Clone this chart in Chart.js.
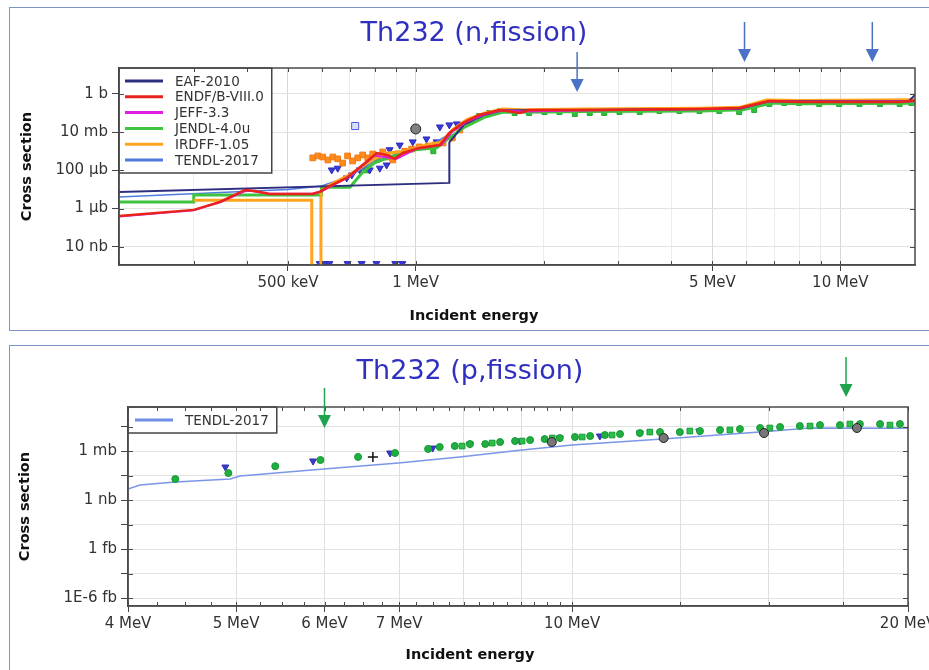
<!DOCTYPE html>
<html>
<head>
<meta charset="utf-8">
<title>Th232 fission</title>
<script src="https://cdn.jsdelivr.net/npm/chart.js@4.4.1/dist/chart.umd.min.js"></script>
<style>
  body { margin: 0; background: #fff; width: 929px; height: 670px; overflow: hidden; position: relative; }
  .panel { position: absolute; left: 9px; width: 940px; border: 1.5px solid #7f95c6; background: #fff; }
  #panelN { top: 7px; height: 322px; }
  #panelP { top: 345px; height: 340px; }
  canvas { position: absolute; left: 0; }
  #chartN { top: 0; }
  #chartP { top: 340px; }
</style>
</head>
<body>
<div class="panel" id="panelN"></div>
<div class="panel" id="panelP"></div>
<canvas id="chartN" width="929" height="335"></canvas>
<canvas id="chartP" width="929" height="330"></canvas>
<script>
// ---- Th232 (n,fission): energy in MeV, cross section in barns ----
const eafE  = [0.2, 1.2, 1.2, 1.3, 1.45, 1.6, 2.0, 5.8, 6.8, 14.5, 15];
const eafXs = [7.4e-6, 2.2e-5, 2.9e-3, 0.025, 0.08, 0.14, 0.14, 0.17, 0.42, 0.42, 0.9];

const endfE  = [0.2, 0.3, 0.346, 0.396, 0.418, 0.453, 0.572, 0.594, 0.627, 0.688, 0.75, 0.81, 0.854, 0.892, 0.932, 1.02, 1.14, 1.2, 1.29, 1.41, 1.58, 1.76, 1.85, 2.71, 4.66, 5.78, 6.8, 8.0, 13.8, 15];
const endfXs = [4.1e-7, 8.5e-7, 2.2e-6, 9.4e-6, 8.3e-6, 5.8e-6, 5.8e-6, 7.4e-6, 1.5e-5, 4.0e-5, 1.9e-4, 8.1e-4, 6.4e-4, 4.0e-4, 8.1e-4, 1.5e-3, 2.1e-3, 9.1e-3, 0.030, 0.079, 0.145, 0.101, 0.145, 0.145, 0.164, 0.185, 0.43, 0.38, 0.38, 0.45];

const jeffE  = [0.2, 0.3, 0.35, 0.4, 0.45, 0.57, 0.6, 0.7, 0.8, 0.9, 1.0, 1.15, 1.22, 1.32, 1.45, 1.6, 1.8, 2.7, 4.7, 5.8, 6.8, 8, 15];
const jeffXs = [3.8e-7, 8e-7, 2.4e-6, 9e-6, 6e-6, 6e-6, 8e-6, 5e-5, 6e-4, 4e-4, 1.3e-3, 2.2e-3, 0.011, 0.035, 0.085, 0.14, 0.12, 0.14, 0.16, 0.18, 0.42, 0.39, 0.4];

const jendlE  = [0.2, 0.3, 0.3, 0.6, 0.6, 0.7, 0.75, 0.8, 0.87, 1.0, 1.12, 1.2, 1.3, 1.45, 1.6, 1.8, 2.5, 4.7, 5.9, 6.9, 8, 15];
const jendlXs = [2.2e-6, 2.2e-6, 5.1e-6, 5.1e-6, 1.3e-5, 1.3e-5, 8e-5, 2.5e-4, 5e-4, 1.2e-3, 1.5e-3, 5e-3, 0.018, 0.06, 0.11, 0.11, 0.122, 0.13, 0.15, 0.34, 0.31, 0.33];

const irdffE  = [0.3, 0.569, 0.569, 0.58, 0.598, 0.598, 0.63, 0.7, 0.78, 0.85, 0.95, 1.05, 1.15, 1.22, 1.32, 1.45, 1.6, 1.8, 2.5, 4.7, 5.8, 6.7, 8, 15];
const irdffXs = [2.7e-6, 2.7e-6, 1e-10, null, 1e-10, 8e-6, 1.8e-5, 6e-5, 3e-4, 8e-4, 1e-3, 2e-3, 3e-3, 0.013, 0.045, 0.1, 0.165, 0.15, 0.165, 0.18, 0.2, 0.48, 0.45, 0.5];

const tendlE  = [0.2, 0.5, 0.6, 0.7, 0.8, 0.9, 1.0, 1.1, 1.2, 1.3, 1.45, 1.6, 2.0, 4.5, 6.0, 7.0, 15];
const tendlXs = [4e-6, 1e-5, 1.5e-5, 5e-5, 3e-4, 7e-4, 1.6e-3, 2.5e-3, 8e-3, 0.03, 0.09, 0.14, 0.14, 0.15, 0.19, 0.4, 0.42];

// measured points
const expOrangeE  = [0.572, 0.588, 0.604, 0.621, 0.638, 0.655, 0.673, 0.691, 0.710, 0.730, 0.750, 0.771, 0.792, 0.814, 0.836, 0.859, 0.883, 0.907, 0.942, 0.978, 1.02, 1.07, 1.11, 1.16, 1.22, 1.27];
const expOrangeXs = [4.5e-4, 5.7e-4, 5.0e-4, 3.5e-4, 5.0e-4, 4.0e-4, 2.4e-4, 5.7e-4, 3.1e-4, 4.5e-4, 6.4e-4, 4.5e-4, 7.2e-4, 5.7e-4, 9.2e-4, 5.0e-4, 3.5e-4, 7.2e-4, 1.0e-3, 1.3e-3, 1.7e-3, 1.9e-3, 2.1e-3, 2.7e-3, 5.0e-3, 0.013];

const expBlueE  = [0.634, 0.655, 0.688, 0.707, 0.738, 0.758, 0.779, 0.823, 0.854, 0.868, 0.917, 0.984, 1.06, 1.12, 1.14, 1.20, 1.25, 0.594, 0.61, 0.626, 0.691, 0.746, 0.808, 0.895, 0.93];
const expBlueXs = [1.05e-4, 1.3e-4, 4.0e-5, 5.7e-5, 1.05e-4, 1.5e-4, 1.05e-4, 1.3e-4, 1.9e-4, 1.2e-3, 2.1e-3, 3.1e-3, 4.4e-3, 3.1e-3, 0.0187, 0.024, 0.027, 1.3e-9, 1.3e-9, 1.3e-9, 1.3e-9, 1.3e-9, 1.3e-9, 1.3e-9, 1.3e-9];

const expGreenE  = [0.765, 0.81, 0.854, 1.10, 1.34, 1.41, 1.49, 1.58, 1.71, 1.85, 2.01, 2.18, 2.37, 2.57, 2.78, 3.02, 3.37, 3.75, 4.18, 4.66, 5.19, 5.78, 6.27, 6.81, 7.38, 8.00, 8.92, 9.94, 11.1, 12.4, 13.8, 14.7];
const expGreenXs = [1e-4, 3.5e-4, 6e-4, 1e-3, 0.034, 0.070, 0.101, 0.129, 0.101, 0.101, 0.114, 0.114, 0.090, 0.101, 0.101, 0.114, 0.114, 0.129, 0.129, 0.129, 0.129, 0.114, 0.145, 0.30, 0.34, 0.34, 0.30, 0.30, 0.30, 0.30, 0.30, 0.34];

const expSquareE = [0.72],  expSquareXs = [0.021];
const expCircleE = [1.0],   expCircleXs = [0.0147];

const nXTicks = [0.2, 0.3, 0.4, 0.5, 0.6, 0.7, 0.8, 0.9, 1, 2, 3, 4, 5, 6, 7, 8, 9, 10];
const nXLabelVals = [0.5, 1, 5, 10];
const nXLabels = ['500 keV', '1 MeV', '5 MeV', '10 MeV'];
const nYTicks = [1e-8, 1e-6, 1e-4, 1e-2, 1];
const nYLabels = ['10 nb', '1 µb', '100 µb', '10 mb', '1 b'];
const nArrowE = [2.4, 5.95, 11.9];

// ---- Th232 (p,fission) ----
const pTendlE  = [4.0, 4.1, 4.41, 4.94, 5.04, 5.99, 6.99, 7.93, 9.02, 10.0, 12.06, 14.73, 16.33, 20];
const pTendlXs = [2.2e-8, 6.9e-8, 1.6e-7, 3.7e-7, 8.7e-7, 6.3e-6, 3.4e-5, 1.9e-4, 1.3e-3, 5.4e-3, 0.029, 0.21, 0.66, 0.6];

const pGreenE  = [4.41, 4.92, 5.42, 5.95, 6.43, 6.94, 7.43, 7.61, 7.85, 8.10, 8.36, 8.62, 8.89, 9.17, 9.45, 9.75, 10.06, 10.38, 10.70, 11.04, 11.50, 11.99, 12.49, 13.02, 13.57, 14.14, 14.74, 15.36, 16.00, 16.68, 17.38, 18.11, 18.88, 19.67];
const pGreenXs = [3.7e-7, 2.0e-6, 1.4e-5, 7.9e-5, 1.9e-4, 5.7e-4, 1.8e-3, 3.1e-3, 4.1e-3, 7.2e-3, 7.2e-3, 0.0126, 0.0166, 0.022, 0.029, 0.039, 0.052, 0.069, 0.091, 0.12, 0.16, 0.21, 0.21, 0.28, 0.37, 0.49, 0.66, 0.87, 1.15, 1.5, 1.5, 2.0, 2.0, 2.0];

const pGreenSqE  = [7.97, 8.48, 9.02, 9.60, 10.21, 10.86, 11.74, 12.75, 13.85, 15.04, 16.34, 17.74, 19.27];
const pGreenSqXs = [4.1e-3, 9.5e-3, 0.0166, 0.039, 0.052, 0.091, 0.21, 0.28, 0.37, 0.66, 1.15, 2.0, 1.5];

const pBlueE  = [4.89, 5.86, 6.87, 7.5, 8.1, 8.98, 9.75, 10.59, 11.5, 13.0];
const pBlueXs = [1.1e-5, 6e-5, 5.7e-4, 2.3e-3, 7e-3, 0.017, 0.039, 0.069, 0.16, 0.28];

const pBlackE  = [9.59, 12.08, 14.86, 18.0];
const pBlackXs = [0.0126, 0.039, 0.16, 0.66];
const pCrossE = [6.63], pCrossXs = [1.9e-4];

const pXTicks = [];
for (let e = 4; e < 10; e += 0.25) pXTicks.push(e);
pXTicks.push(10, 12.5, 15, 17.5, 20);
const pXLabelVals = [4, 5, 6, 7, 10, 20];
const pXLabels = ['4 MeV', '5 MeV', '6 MeV', '7 MeV', '10 MeV', '20 MeV'];
const pYTicks = [1e-21, 1e-18, 1e-15, 1e-12, 1e-9, 1e-6, 1e-3, 1];
const pYLabelVals = [1e-21, 1e-15, 1e-9, 1e-3];
const pYLabels = ['1E-6 fb', '1 fb', '1 nb', '1 mb'];
const pArrowE = [6.0, 17.6];

Chart.defaults.font.family = "'DejaVu Sans', sans-serif";
Chart.defaults.color = '#333';

const pts = (xs, ys) => xs.map((x, i) => ({ x: x, y: ys[i] }));

function fixedTicks(values) {
    return function (scale) { scale.ticks = values.map(v => ({ value: v })); };
}
function findLabel(vals, texts, v) {
    const i = vals.findIndex(t => Math.abs(t - v) <= t * 1e-6);
    return i < 0 ? '' : texts[i];
}
function isIn(vals, v) {
    return vals.some(t => Math.abs(t - v) <= t * 1e-6);
}

// box legend drawn inside the plot, top-left
const boxLegend = {
    id: 'boxLegend',
    afterDatasetsDraw(chart, args, opts) {
        const items = chart.data.datasets.filter(d => d.inLegend);
        const ctx = chart.ctx, a = chart.chartArea;
        ctx.save();
        ctx.font = opts.font;
        let tw = 0;
        items.forEach(d => { tw = Math.max(tw, ctx.measureText(d.label).width); });
        const w = opts.textX + tw + 8;
        const h = items.length * opts.rowH + opts.padY * 2;
        ctx.fillStyle = '#fff';
        ctx.fillRect(a.left, a.top, w, h);
        ctx.strokeStyle = '#444';
        ctx.lineWidth = 1.5;
        ctx.strokeRect(a.left, a.top, w, h);
        ctx.textBaseline = 'middle';
        items.forEach((d, i) => {
            const y = a.top + opts.padY + opts.rowH * (i + 0.5);
            ctx.strokeStyle = d.legendColor || d.borderColor;
            ctx.lineWidth = 3;
            ctx.beginPath();
            ctx.moveTo(a.left + opts.lineX0, y);
            ctx.lineTo(a.left + opts.lineX1, y);
            ctx.stroke();
            ctx.fillStyle = '#333';
            ctx.fillText(d.label, a.left + opts.textX, y + 1);
        });
        ctx.restore();
    }
};

// plot frame with inward ticks
const framePlugin = {
    id: 'frame',
    afterDatasetsDraw(chart) {
        const { ctx, chartArea: a, scales } = chart;
        ctx.save();
        ctx.strokeStyle = '#4a4a4a';
        ctx.lineWidth = 1;
        ctx.beginPath();
        scales.x.ticks.forEach(t => {
            const px = Math.round(scales.x.getPixelForValue(t.value)) + 0.5;
            ctx.moveTo(px, a.top); ctx.lineTo(px, a.top + 4);
            ctx.moveTo(px, a.bottom); ctx.lineTo(px, a.bottom - 4);
        });
        scales.y.ticks.forEach(t => {
            const py = Math.round(scales.y.getPixelForValue(t.value)) + 0.5;
            ctx.moveTo(a.right, py); ctx.lineTo(a.right - 5, py);
            ctx.moveTo(a.left, py); ctx.lineTo(a.left + 5, py);
        });
        ctx.stroke();
        ctx.lineWidth = 1.5;
        ctx.strokeRect(a.left, a.top, a.right - a.left, a.bottom - a.top);
        ctx.restore();
    }
};

// down arrows marking energies
const arrowPlugin = {
    id: 'arrows',
    afterDraw(chart, args, opts) {
        const ctx = chart.ctx, a = chart.chartArea, x = chart.scales.x;
        ctx.save();
        ctx.strokeStyle = opts.color;
        ctx.fillStyle = opts.color;
        ctx.lineWidth = 1.5;
        opts.energies.forEach((e, i) => {
            const px = x.getPixelForValue(e);
            const tip = a.top + opts.tips[i];
            ctx.beginPath();
            ctx.moveTo(px, tip - 40);
            ctx.lineTo(px, tip - 12);
            ctx.stroke();
            ctx.beginPath();
            ctx.moveTo(px - 6.5, tip - 13);
            ctx.lineTo(px + 6.5, tip - 13);
            ctx.lineTo(px, tip);
            ctx.closePath();
            ctx.fill();
        });
        ctx.restore();
    }
};

function lineSet(label, xs, ys, color, width, order) {
    return { label: label, data: pts(xs, ys), showLine: true, borderColor: color, backgroundColor: color,
             borderWidth: width, pointRadius: 0, tension: 0, spanGaps: false, order: order, inLegend: true, clip: 0 };
}
function pointSet(xs, ys, style, radius, fill, stroke, order, rot) {
    return { label: '', data: pts(xs, ys), showLine: false, pointStyle: style, pointRadius: radius,
             pointBackgroundColor: fill, pointBorderColor: stroke, pointBorderWidth: 1,
             pointRotation: rot || 0, order: order, clip: 0 };
}

const axisFont = { size: 15 };

new Chart(document.getElementById('chartN'), {
    type: 'scatter',
    data: {
        datasets: [
            lineSet('EAF-2010', eafE, eafXs, '#2e2e80', 2, 2),
            lineSet('ENDF/B-VIII.0', endfE, endfXs, '#e8231b', 2.5, 0),
            lineSet('JEFF-3.3', jeffE, jeffXs, '#e21ee2', 2, 1),
            lineSet('JENDL-4.0u', jendlE, jendlXs, '#3ec43e', 3, 4),
            lineSet('IRDFF-1.05', irdffE, irdffXs, '#ffa41c', 3, 3),
            lineSet('TENDL-2017', tendlE, tendlXs, '#4f7be0', 1.5, 5),
            pointSet(expOrangeE, expOrangeXs, 'rect', 4, '#ff8a1e', '#f07a10', 6),
            pointSet(expBlueE, expBlueXs, 'triangle', 4, '#3a3ad6', '#2a2ac0', 7, 180),
            pointSet(expGreenE, expGreenXs, 'rect', 3.5, '#2fbf3a', '#22a82e', 8),
            pointSet(expSquareE, expSquareXs, 'rect', 5, 'rgba(150,160,255,0.35)', '#4a5ae0', 6),
            pointSet(expCircleE, expCircleXs, 'circle', 5, '#808080', '#222', 6)
        ]
    },
    options: {
        responsive: false,
        animation: false,
        devicePixelRatio: 1,
        layout: { padding: { left: 19, right: 0, top: 0, bottom: 0 } },
        plugins: {
            legend: { display: false },
            tooltip: { enabled: false },
            title: { display: true, text: 'Th232 (n,fission)', color: '#3030c0',
                     font: { size: 27, weight: 'normal', lineHeight: 1.2 }, padding: { top: 17.3, bottom: 18.3 } },
            subtitle: { display: true, position: 'bottom', text: 'Incident energy', color: '#111',
                        font: { size: 14.5, weight: 'bold', lineHeight: 1.2 }, padding: { top: 0, bottom: 10.3 } },
            boxLegend: { font: "13.5px 'DejaVu Sans', sans-serif", rowH: 15.8, padY: 5.1, lineX0: 6, lineX1: 44, textX: 56 },
            arrows: { color: '#4a72c6', energies: nArrowE, tips: [24, -6, -6] }
        },
        scales: {
            x: {
                type: 'logarithmic', position: 'bottom', min: 0.2, max: 15,
                afterBuildTicks: fixedTicks(nXTicks),
                afterFit: s => { s.height = 42.3; s.paddingLeft = 0; s.paddingRight = 0; },
                ticks: { autoSkip: false, maxRotation: 0, minRotation: 0, padding: 3, font: axisFont, color: '#333',
                         callback: v => findLabel(nXLabelVals, nXLabels, v) },
                grid: { color: c => (c.tick && isIn(nXLabelVals, c.tick.value)) ? '#d8d8d8' : '#ececec',
                        tickColor: c => (c.tick && isIn(nXLabelVals, c.tick.value)) ? '#444' : 'rgba(0,0,0,0)',
                        tickLength: 6 },
                border: { color: '#4a4a4a', width: 1.5 }
            },
            y: {
                type: 'logarithmic', position: 'left', min: 1.1e-9, max: 23,
                afterBuildTicks: fixedTicks(nYTicks),
                afterFit: s => { s.width = 100; s.paddingTop = 0; s.paddingBottom = 0; },
                ticks: { autoSkip: false, padding: 4, font: axisFont, color: '#333',
                         callback: v => findLabel(nYTicks, nYLabels, v) },
                grid: { color: '#e2e2e2', tickColor: '#444', tickLength: 7 },
                border: { color: '#4a4a4a', width: 1.5 },
                title: { display: true, text: 'Cross section', color: '#111',
                         font: { size: 14.5, weight: 'bold', lineHeight: 1.2 }, padding: { top: 0, bottom: 0 } }
            },
            y2: {
                type: 'logarithmic', position: 'right', min: 1.1e-9, max: 23,
                afterFit: s => { s.width = 14; },
                ticks: { display: false }, grid: { display: false }, border: { display: false }
            }
        }
    },
    plugins: [boxLegend, framePlugin, arrowPlugin]
});

new Chart(document.getElementById('chartP'), {
    type: 'scatter',
    data: {
        datasets: [
            Object.assign(lineSet('TENDL-2017', pTendlE, pTendlXs, '#7b96e8', 1.5, 5), { legendColor: '#6f8ee6' }),
            pointSet(pGreenE, pGreenXs, 'circle', 3.5, '#1fae3f', '#169a33', 1),
            pointSet(pGreenSqE, pGreenSqXs, 'rect', 4, '#2cc04a', '#169a33', 1),
            pointSet(pBlueE, pBlueXs, 'triangle', 4, '#3d3dc8', '#2d2db0', 2, 180),
            pointSet(pBlackE, pBlackXs, 'circle', 4.5, '#777', '#222', 0),
            Object.assign(pointSet(pCrossE, pCrossXs, 'cross', 5, '#111', '#111', 0), { pointBorderWidth: 1.5 })
        ]
    },
    options: {
        responsive: false,
        animation: false,
        devicePixelRatio: 1,
        layout: { padding: { left: 11, right: 0, top: 0, bottom: 0 } },
        plugins: {
            legend: { display: false },
            tooltip: { enabled: false },
            title: { display: true, text: 'Th232 (p,fission)', color: '#3030c0',
                     font: { size: 27, weight: 'normal', lineHeight: 1.2 }, padding: { top: 15.3, bottom: 19.3 } },
            subtitle: { display: true, position: 'bottom', text: 'Incident energy', color: '#111',
                        font: { size: 14.5, weight: 'bold', lineHeight: 1.2 }, padding: { top: 0, bottom: 6.3 } },
            boxLegend: { font: "13.5px 'DejaVu Sans', sans-serif", rowH: 15.8, padY: 5.1, lineX0: 7, lineX1: 45, textX: 57 },
            arrows: { color: '#1ea34f', energies: pArrowE, tips: [21, -10] }
        },
        scales: {
            x: {
                type: 'logarithmic', position: 'bottom', min: 4, max: 20,
                afterBuildTicks: fixedTicks(pXTicks),
                afterFit: s => { s.height = 40.3; s.paddingLeft = 0; s.paddingRight = 0; },
                ticks: { autoSkip: false, maxRotation: 0, minRotation: 0, padding: 3, font: axisFont, color: '#333',
                         callback: v => findLabel(pXLabelVals, pXLabels, v) },
                grid: { color: c => (c.tick && (Math.abs(c.tick.value - Math.round(c.tick.value)) < 1e-9 || c.tick.value > 10)) ? '#dedede' : 'rgba(0,0,0,0)',
                        tickColor: c => (c.tick && isIn(pXLabelVals, c.tick.value)) ? '#444' : 'rgba(0,0,0,0)',
                        tickLength: 6 },
                border: { color: '#4a4a4a', width: 1.5 }
            },
            y: {
                type: 'logarithmic', position: 'left', min: 1.07e-22, max: 245,
                afterBuildTicks: fixedTicks(pYTicks),
                afterFit: s => { s.width = 117; s.paddingTop = 0; s.paddingBottom = 0; },
                ticks: { autoSkip: false, padding: 4, font: axisFont, color: '#333',
                         callback: v => findLabel(pYLabelVals, pYLabels, v) },
                grid: { color: '#e2e2e2', tickColor: '#444', tickLength: 7 },
                border: { color: '#4a4a4a', width: 1.5 },
                title: { display: true, text: 'Cross section', color: '#111',
                         font: { size: 14.5, weight: 'bold', lineHeight: 1.2 }, padding: { top: 5.8, bottom: 0 } }
            },
            y2: {
                type: 'logarithmic', position: 'right', min: 1.07e-22, max: 245,
                afterFit: s => { s.width = 21; },
                ticks: { display: false }, grid: { display: false }, border: { display: false }
            }
        }
    },
    plugins: [boxLegend, framePlugin, arrowPlugin]
});
</script>
</body>
</html>
